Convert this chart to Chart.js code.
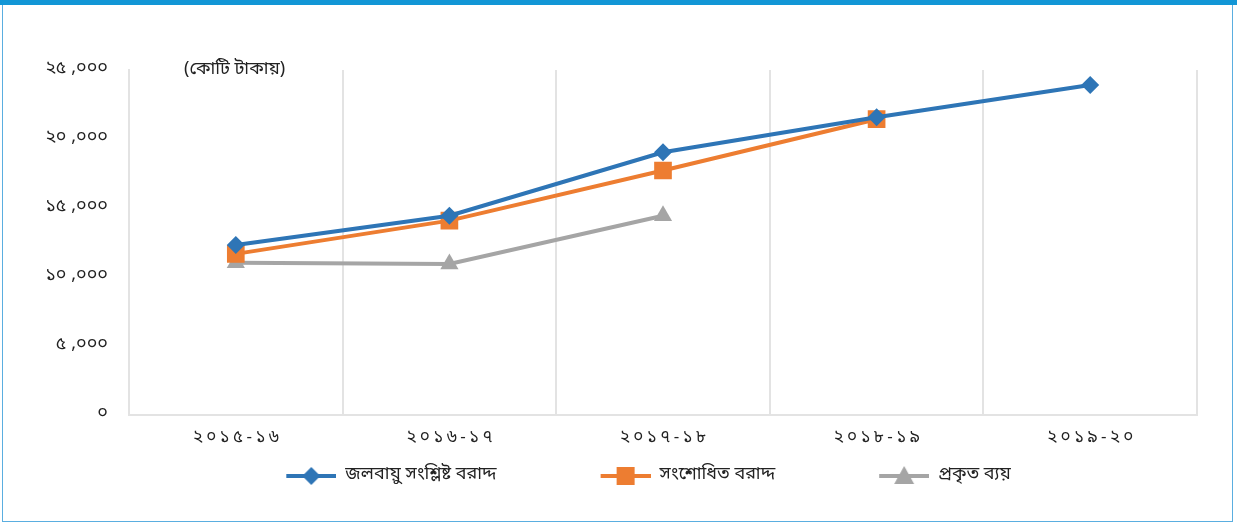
<!DOCTYPE html>
<html>
<head>
<meta charset="utf-8">
<script src="https://cdn.jsdelivr.net/npm/chart.js@4.4.4/dist/chart.umd.min.js"></script>
<style>
  html, body { margin: 0; padding: 0; background: #fff; }
  #wrap { position: relative; width: 1237px; height: 525px; overflow: hidden; }
  #frame {
    position: absolute; left: 2px; top: 0; width: 1229px; height: 516px;
    border: 1px solid #5aaee0; border-top: 5px solid #1296d6;
  }
  #topbar { position: absolute; left: 0; top: 0; width: 1237px; height: 5px; background: #1296d6; }
  #unit {
    position: absolute; left: 184px; top: 57px;
    font: 18px "Noto Sans Bengali", "Noto Sans", "DejaVu Sans", sans-serif; color: #222;
  }
  canvas { position: absolute; left: 0; top: 0; }
</style>
</head>
<body>
<div id="wrap">
  <div id="frame"></div>
  <div id="topbar"></div>
  <canvas id="chart" width="1237" height="525"></canvas>
  <div id="unit">(কোটি টাকায়)</div>
</div>
<script>
const years = ["২০১৫-১৬", "২০১৬-১৭", "২০১৭-১৮", "২০১৮-১৯", "২০১৯-২০"];
const seriesNames = ["জলবায়ু সংশ্লিষ্ট বরাদ্দ", "সংশোধিত বরাদ্দ", "প্রকৃত ব্যয়"];
const climateAllocation = [12300, 14430, 19030, 21570, 23910];
const revisedAllocation = [11660, 14070, 17710, 21430, null];
const actualSpending = [11010, 10930, 14430, null, null];

const bnDigits = "০১২৩৪৫৬৭৮৯";
const toBn = (s) => String(s).replace(/[0-9]/g, (d) => bnDigits[d]);
const spaced = (s) => s.split("").join("\u2009");

const FONT = '"Noto Sans Bengali", "Noto Sans", "DejaVu Sans", sans-serif';

// legend icon: transparent gap on the left, then line with marker
function legendIcon(color, style, r, gap) {
  const c = document.createElement("canvas");
  c.width = 50 + gap; c.height = 24;
  const ctx = c.getContext("2d");
  const cx = gap + 25;
  ctx.strokeStyle = color; ctx.lineWidth = 4;
  ctx.beginPath(); ctx.moveTo(gap, 12); ctx.lineTo(gap + 50, 12); ctx.stroke();
  ctx.fillStyle = color;
  ctx.beginPath();
  if (style === "rectRot") {
    ctx.moveTo(cx, 12 - r); ctx.lineTo(cx + r, 12); ctx.lineTo(cx, 12 + r); ctx.lineTo(cx - r, 12);
  } else if (style === "rect") {
    ctx.rect(cx - r, 12 - r, 2 * r, 2 * r);
  } else {
    ctx.moveTo(cx, 12 - r); ctx.lineTo(cx + r, 12 + r * 0.8); ctx.lineTo(cx - r, 12 + r * 0.8);
  }
  ctx.closePath(); ctx.fill();
  return c;
}

const colors = ["#2e75b6", "#ed7d31", "#a5a5a5"];
const GAP = 100;
const icons = [
  legendIcon(colors[0], "rectRot", 9, GAP),
  legendIcon(colors[1], "rect", 9, GAP),
  legendIcon(colors[2], "triangle", 10, GAP),
];

const data = {
  labels: years.map(spaced),
  datasets: [
    {
      label: seriesNames[0], data: climateAllocation,
      borderColor: colors[0], backgroundColor: colors[0],
      borderWidth: 4, pointStyle: "rectRot", pointRadius: 9, pointHoverRadius: 9,
      pointBorderWidth: 0,
    },
    {
      label: seriesNames[1], data: revisedAllocation,
      borderColor: colors[1], backgroundColor: colors[1],
      borderWidth: 4, pointStyle: "rect", pointRadius: 12.5, pointHoverRadius: 12.5,
      pointBorderWidth: 0,
    },
    {
      label: seriesNames[2], data: actualSpending,
      borderColor: colors[2], backgroundColor: colors[2],
      borderWidth: 4, pointStyle: "triangle", pointRadius: 10.5, pointHoverRadius: 10.5,
      pointBorderWidth: 0,
    },
  ],
};

const options = {
  responsive: false,
  animation: false,
  layout: { padding: { left: 0, right: 40, top: 70, bottom: 30 } },
  plugins: {
    tooltip: { enabled: false },
    legend: {
      position: "bottom",
      labels: {
        usePointStyle: true,
        pointStyleWidth: 50 + GAP,
        padding: 4,
        color: "#222",
        font: { family: FONT, size: 18 },
        generateLabels(chart) {
          return chart.data.datasets.map((ds, i) => ({
            text: ds.label, pointStyle: icons[i], fillStyle: ds.borderColor,
            strokeStyle: ds.borderColor, lineWidth: 0, hidden: false, datasetIndex: i,
            fontColor: "#222",
          }));
        },
      },
    },
  },
  scales: {
    x: {
      offset: true,
      grid: { display: true, color: "#e3e3e3", lineWidth: 2, drawTicks: false, offset: true },
      border: { display: true, color: "#e3e3e3", width: 2 },
      ticks: { color: "#222", font: { family: FONT, size: 17 }, padding: 14 },
    },
    y: {
      min: 0, max: 25000,
      afterFit(scale) { scale.width = 129; },
      grid: { display: false, drawTicks: false },
      border: { display: true, color: "#e3e3e3", width: 2 },
      ticks: {
        stepSize: 5000, padding: 21, color: "#222",
        font: { family: FONT, size: 18 },
        callback(v) {
          if (v === 0) return "০";
          const s = v.toLocaleString("en-US").replace(",", " ,");
          return toBn(s);
        },
      },
    },
  },
};

new Chart(document.getElementById("chart"), { type: "line", data, options });
</script>
</body>
</html>
